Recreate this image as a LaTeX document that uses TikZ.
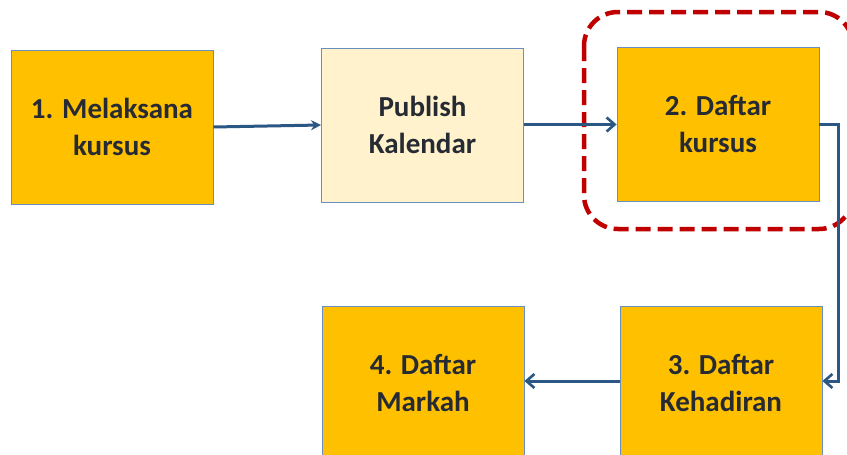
\documentclass[tikz,border=0pt]{standalone}
\usepackage{fontspec}
\setmainfont{Carlito}
\usetikzlibrary{arrows.meta}
\definecolor{boxorange}{HTML}{FFC000}
\definecolor{boxcream}{HTML}{FFF2CC}
\definecolor{boxedge}{HTML}{6A8EBF}
\definecolor{txt}{HTML}{262A33}
\definecolor{arr}{HTML}{2A5783}
\definecolor{dashred}{HTML}{C00000}
\tikzset{
  stepbox/.style={draw=boxedge, line width=0.9pt, fill=boxorange, minimum width=202pt, minimum height=154pt,
    align=center, text=txt, font=\bfseries\fontsize{29}{37}\selectfont, inner sep=0pt},
  conn/.style={draw=arr, line width=3pt, -{Straight Barb[length=8pt,width=14pt,line width=2.6pt]}},
}
\begin{document}
\begin{tikzpicture}[x=1pt,y=-1pt]
\useasboundingbox (0,0) rectangle (847,455);
\clip (0,0) rectangle (847,455);
\fill[white] (0,0) rectangle (847,455);
\node[stepbox] (b1) at (112,127) {1. Melaksana\\kursus};
\node[stepbox, fill=boxcream] (pub) at (422.5,125) {Publish\\Kalendar};
\node[stepbox] (b2) at (718,124.5) {2. Daftar\\kursus};
\node[stepbox] (b3) at (721,383) {3. Daftar\\Kehadiran};
\node[stepbox] (b4) at (423,383) {4. Daftar\\Markah};
\draw[dashred, line width=4.5pt, dash pattern=on 15pt off 7pt, rounded corners=34pt]
  (584,12) rectangle (853,229);
\coordinate (c1) at (838,124.5);
\coordinate (c2) at (838,381);
\draw[draw=arr, line width=3pt, -{Stealth[length=10pt,width=10pt]}] (b1.east) -- (pub.west);
\draw[conn] (pub.east |- b2.west) -- (b2.west);
\draw[conn] (b2.east) -- (c1) -- (c2) -- (b3.east |- c2);
\draw[conn] (b3.west |- c2) -- (b4.east |- c2);
\end{tikzpicture}
\end{document}
